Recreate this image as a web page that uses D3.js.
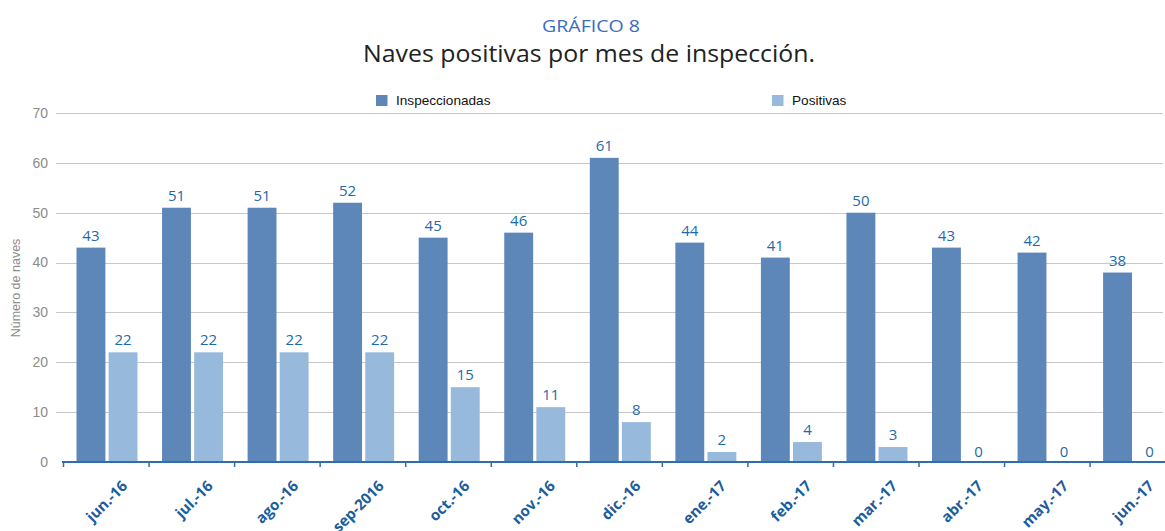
<!DOCTYPE html>
<html><head><meta charset="utf-8">
<script src="https://cdn.jsdelivr.net/npm/d3@7"></script>
<style>body{margin:0;background:#fff}svg{display:block}</style>
</head><body>
<svg id="c" width="1165" height="531"></svg>
<script>
const categories = ["jun.-16","jul.-16","ago.-16","sep-2016","oct.-16","nov.-16","dic.-16","ene.-17","feb.-17","mar.-17","abr.-17","may.-17","jun.-17"];
const seriesNames = ["Inspeccionadas","Positivas"];
const inspeccionadas = [43,51,51,52,45,46,61,44,41,50,43,42,38];
const positivas = [22,22,22,22,15,11,8,2,4,3,0,0,0];
const yTicks = [0,10,20,30,40,50,60,70];
const colors = ["#5e87b9","#97b9db"];

const rows = categories.map((c,i)=>({cat:c, vals:[inspeccionadas[i], positivas[i]]}));
const svg = d3.select("#c");

const x = d3.scaleBand().domain(categories).range([63.5, 63.5+13*85.55]).paddingInner(0).paddingOuter(0);
const x1 = d3.scaleBand().domain(seriesNames).range([13, 74]).paddingInner(0.1);
const y = d3.scaleLinear().domain([0,70]).range([462,113]);

// titles
svg.append("text").attr("x",591).attr("y",31.5).attr("text-anchor","middle")
  .attr("font-family","'Open Sans'").attr("font-size",17)
  .attr("fill","#3a6cc0").attr("textLength",98).attr("lengthAdjust","spacingAndGlyphs").text("GRÁFICO 8");
svg.append("text").attr("x",589).attr("y",61.5).attr("text-anchor","middle")
  .attr("font-family","'Open Sans'").attr("font-size",24)
  .attr("fill","#222").attr("textLength",452).attr("lengthAdjust","spacingAndGlyphs").text("Naves positivas por mes de inspección.");

// gridlines
svg.append("g").selectAll("line").data(yTicks.filter(d=>d>0)).join("line")
  .attr("x1",56).attr("x2",1163).attr("y1",d=>Math.round(y(d))+0.5).attr("y2",d=>Math.round(y(d))+0.5)
  .attr("stroke","#c8c8c8").attr("stroke-width",1.2);

// y tick labels
svg.append("g").selectAll("text").data(yTicks).join("text")
  .attr("x",48).attr("y",d=>y(d)).attr("dy","0.35em").attr("text-anchor","end")
  .attr("font-family","'Liberation Sans', Arial").attr("font-size",14).attr("fill","#8c8c8c").text(d=>d);

// y title
svg.append("text").attr("transform","translate(20,288) rotate(-90)").attr("text-anchor","middle")
  .attr("font-family","'Liberation Sans', Arial").attr("font-size",12.5).attr("fill","#8c8c8c").text("Número de naves");

// legend
const legX = [376, 772];
const leg = svg.append("g").selectAll("g").data(seriesNames).join("g")
  .attr("transform",(d,i)=>`translate(${legX[i]},95)`);
leg.append("rect").attr("width",11.5).attr("height",11).attr("fill",(d,i)=>colors[i]);
leg.append("text").attr("x",20).attr("y",9.5).attr("font-family","'Liberation Sans', Arial")
  .attr("font-size",13.6).attr("fill","#111").text(d=>d);

// bars
const g = svg.append("g").selectAll("g").data(rows).join("g")
  .attr("transform",d=>`translate(${x(d.cat)},0)`);
g.selectAll("rect").data(d=>d.vals.map((v,i)=>({k:seriesNames[i],v,i}))).join("rect")
  .attr("x",d=>x1(d.k)).attr("width",x1.bandwidth())
  .attr("y",d=>y(d.v)).attr("height",d=>y(0)-y(d.v)).attr("fill",d=>colors[d.i]);
g.selectAll("text").data(d=>d.vals.map((v,i)=>({k:seriesNames[i],v,i}))).join("text")
  .attr("x",d=>x1(d.k)+x1.bandwidth()/2).attr("y",d=>y(d.v)-(d.v===0?5:7))
  .attr("text-anchor","middle").attr("font-family","'Open Sans'").attr("font-size",15)
  .attr("fill","#1f69ab").text(d=>d.v);

// x axis
const xa = svg.append("g");
xa.append("line").attr("x1",62).attr("x2",1165).attr("y1",462).attr("y2",462).attr("stroke","#2f6ea6").attr("stroke-width",2);
xa.selectAll("line.t").data(categories).join("line").attr("class","t")
  .attr("x1",d=>x(d)).attr("x2",d=>x(d)).attr("y1",462).attr("y2",467).attr("stroke","#2f6ea6").attr("stroke-width",1.5);
xa.selectAll("text").data(categories).join("text")
  .attr("transform",d=>`translate(${x(d)+x.bandwidth()/2+22},487) rotate(-45)`)
  .attr("text-anchor","end").attr("font-family","'Open Sans'").attr("font-weight","bold")
  .attr("font-size",15).attr("fill","#1c5e9c").text(d=>d);
</script>
</body></html>
